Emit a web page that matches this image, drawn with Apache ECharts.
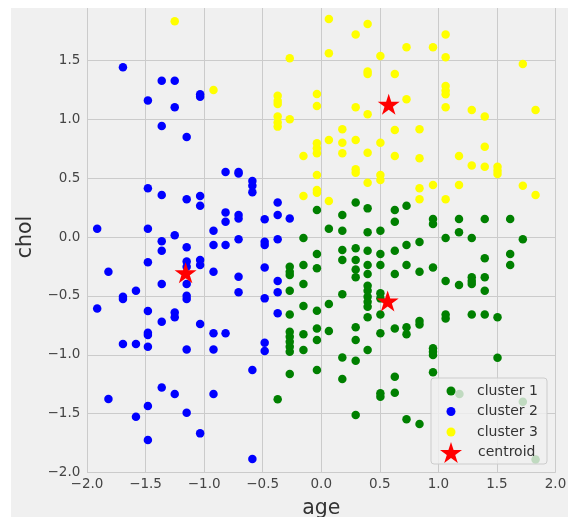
<!DOCTYPE html>
<html><head><meta charset="utf-8">
<script src="https://cdn.jsdelivr.net/npm/echarts@6/dist/echarts.min.js"></script>
<style>html,body{margin:0;padding:0;background:#fff}#c{width:568px;height:517px}</style>
</head><body><div id="c"></div>
<script>
// ---- data ----
const seriesNames = ['cluster 1', 'cluster 2', 'cluster 3', 'centroid'];
const xTicks = [-2.0, -1.5, -1.0, -0.5, 0.0, 0.5, 1.0, 1.5, 2.0];
const yTicks = [-2.0, -1.5, -1.0, -0.5, 0.0, 0.5, 1.0, 1.5];

const cluster1Age = [-0.037,0.180,0.294,0.396,0.628,0.628,0.728,0.065,0.180,0.396,0.505,-0.152,
 0.954,0.954,1.062,1.176,1.176,1.285,1.396,1.613,1.721,0.839,0.728,
 -0.037,0.180,0.180,0.294,0.294,0.396,0.505,0.628,0.294,0.294,0.396,0.396,0.505,0.628,0.728,0.839,0.954,
 1.062,1.176,1.285,1.285,1.285,1.396,1.396,1.396,1.613,1.613,
 -0.269,-0.269,-0.269,-0.152,-0.037,-0.152,-0.269,
 0.396,0.396,0.396,0.396,0.396,0.180,0.505,0.505,0.065,-0.152,-0.037,-0.269,
 0.396,0.505,1.062,1.062,1.285,1.396,1.505,
 -0.037,0.065,0.294,-0.269,-0.269,-0.269,-0.269,-0.269,
 -0.152,-0.037,-0.152,0.294,0.505,0.628,0.728,0.728,0.839,0.839,
 0.396,0.954,0.954,0.954,0.180,0.294,1.505,
 -0.037,-0.269,0.180,0.628,0.954,0.505,0.505,0.628,
 -0.372,0.294,0.728,0.839,1.180,1.721,1.830];
const cluster1Chol = [0.229,0.187,0.292,0.243,0.229,0.130,0.266,0.071,0.054,0.040,0.054,-0.008,
 0.153,0.110,-0.008,0.153,0.040,-0.008,0.153,0.153,-0.020,-0.042,-0.068,
 -0.144,-0.110,-0.195,-0.096,-0.195,-0.116,-0.144,-0.116,-0.275,-0.342,-0.238,-0.314,-0.238,-0.314,-0.238,-0.294,-0.258,
 -0.374,-0.408,-0.342,-0.374,-0.399,-0.342,-0.181,-0.456,-0.144,-0.238,
 -0.252,-0.294,-0.323,-0.238,-0.266,-0.399,-0.456,
 -0.413,-0.456,-0.507,-0.549,-0.592,-0.487,-0.478,-0.521,-0.569,-0.586,-0.626,-0.657,
 -0.682,-0.657,-0.657,-0.691,-0.657,-0.657,-0.682,
 -0.776,-0.798,-0.767,-0.804,-0.847,-0.889,-0.931,-0.974,
 -0.826,-0.875,-0.960,-0.875,-0.818,-0.776,-0.767,-0.826,-0.713,-0.742,
 -0.960,-0.945,-0.974,-1.002,-1.022,-1.050,-1.025,
 -1.129,-1.163,-1.206,-1.186,-1.149,-1.327,-1.356,-1.322,
 -1.378,-1.511,-1.548,-1.588,-1.333,-1.398,-1.888];

const cluster2Age = [-1.693,-1.362,-1.251,-1.480,-1.251,-1.034,-1.034,-1.362,-1.149,
 -0.817,-0.706,-0.706,-0.588,-0.588,-0.588,-1.480,-1.362,-1.149,-1.034,-1.034,-0.372,
 -0.817,-0.817,-0.706,-0.706,-0.483,-0.372,-0.269,-1.913,-1.480,-1.251,-0.920,
 -1.362,-1.362,-1.149,-0.920,-0.817,-0.706,-0.483,-0.483,-0.372,
 -1.480,-1.034,-1.034,-1.149,-1.149,-1.817,-0.920,-0.483,
 -0.706,-0.372,-1.362,-1.149,-1.582,-1.693,-1.693,-1.149,-1.149,-0.706,-0.372,-0.483,
 -1.913,-1.480,-1.251,-1.251,-0.372,-1.362,-1.034,
 -1.480,-1.480,-0.920,-0.817,-1.693,-1.582,-1.480,-1.149,-0.920,-0.483,-0.483,-0.588,
 -1.362,-1.251,-0.920,-1.817,-1.480,-1.149,-1.582,-1.034,-1.480,-0.588];
const cluster2Chol = [1.441,1.327,1.327,1.158,1.101,1.211,1.190,0.943,0.849,
 0.552,0.552,0.540,0.475,0.436,0.379,0.413,0.357,0.320,0.348,0.266,0.292,
 0.209,0.130,0.187,0.158,0.150,0.187,0.158,0.071,0.071,0.014,0.054,
 -0.037,-0.116,-0.088,-0.068,-0.068,-0.020,-0.040,-0.068,-0.020,
 -0.215,-0.195,-0.238,-0.209,-0.252,-0.294,-0.294,-0.258,
 -0.337,-0.374,-0.399,-0.399,-0.456,-0.507,-0.526,-0.498,-0.526,-0.470,-0.470,-0.521,
 -0.606,-0.628,-0.640,-0.682,-0.648,-0.719,-0.739,
 -0.812,-0.832,-0.818,-0.818,-0.909,-0.909,-0.931,-0.954,-0.954,-0.897,-0.968,-1.129,
 -1.277,-1.333,-1.333,-1.376,-1.435,-1.492,-1.526,-1.667,-1.724,-1.885];

const cluster3Age = [-1.251,-0.920,0.065,0.396,0.294,1.062,0.728,0.954,
 -0.269,0.065,0.505,1.062,1.721,0.396,0.396,0.628,
 -0.372,-0.372,-0.372,-0.037,-0.037,1.062,1.062,1.062,
 0.728,0.294,0.396,1.062,1.285,1.396,1.830,
 -0.372,-0.372,-0.372,-0.269,0.180,0.628,0.839,
 0.065,0.180,0.294,0.505,-0.037,-0.037,-0.037,
 -0.152,0.180,0.396,0.628,0.839,1.176,1.396,
 1.285,1.396,1.505,1.505,1.505,0.294,0.294,
 -0.037,0.505,0.505,0.396,0.954,1.176,1.721,
 -0.037,-0.037,0.839,0.839,-0.152,0.065,1.062,1.830];
const cluster3Chol = [1.831,1.248,1.851,1.809,1.718,1.718,1.611,1.611,
 1.517,1.560,1.537,1.526,1.469,1.404,1.384,1.384,
 1.200,1.155,1.129,1.214,1.112,1.282,1.243,1.211,
 1.169,1.101,1.042,1.101,1.078,1.022,1.078,
 1.022,0.971,0.937,0.999,0.914,0.909,0.914,
 0.824,0.801,0.824,0.801,0.795,0.753,0.710,
 0.688,0.710,0.716,0.688,0.668,0.688,0.767,
 0.606,0.597,0.597,0.563,0.535,0.575,0.546,
 0.526,0.526,0.484,0.461,0.442,0.442,0.436,
 0.399,0.376,0.413,0.320,0.348,0.306,0.320,0.357];

const centroidAge = [-1.158, 0.576, 0.567];
const centroidChol = [-0.303, 1.127, -0.543];

// ---- chart ----
const pairs = (a, b) => a.map((v, i) => [v, b[i]]);
const fmt = v => (Math.abs(v) < 1e-9 ? 0 : v).toFixed(1).replace('-', '\u2212');
const starPath = 'path://M50,0L61.2,34.5L97.6,34.5L68.2,55.9L79.4,90.5L50,69.1L20.6,90.5L31.8,55.9L2.4,34.5L38.8,34.5Z';
const FONT = 'DejaVu Sans';

const chart = echarts.init(document.getElementById('c'), null, {renderer: 'canvas'});
chart.setOption({
  animation: false,
  backgroundColor: '#f0f0f0',
  textStyle: {fontFamily: FONT},
  grid: {left: 87, right: 12.5, top: 1.4, bottom: 44.4, containLabel: false, outerBoundsMode: 'none'},
  xAxis: {
    type: 'value', min: xTicks[0], max: xTicks[xTicks.length - 1], interval: 0.5,
    axisLine: {show: false}, axisTick: {show: false},
    splitLine: {show: true, lineStyle: {color: '#cbcbcb', width: 1}},
    axisLabel: {fontFamily: FONT, fontSize: 13.5, color: '#444', margin: 5,
      showMinLabel: true, showMaxLabel: true, formatter: v => fmt(v)},
    name: 'age', nameLocation: 'middle', nameGap: 26,
    nameTextStyle: {fontFamily: FONT, fontSize: 20.5, color: '#333'}
  },
  yAxis: {
    type: 'value', min: yTicks[0], max: 2.0, interval: 0.5,
    axisLine: {show: false}, axisTick: {show: false},
    splitLine: {show: true, lineStyle: {color: '#cbcbcb', width: 1}},
    axisLabel: {fontFamily: FONT, fontSize: 13.5, color: '#444', margin: 6.7,
      showMinLabel: true, formatter: v => (yTicks.some(t => Math.abs(t - v) < 1e-9) ? fmt(v) : '')},
    name: 'chol', nameLocation: 'middle', nameGap: 40, nameRotate: 90,
    nameTextStyle: {fontFamily: FONT, fontSize: 20.5, color: '#333'}
  },
  legend: [
    {data: seriesNames.slice(0, 3), orient: 'vertical', left: 446.5, top: 384, padding: 0,
     itemWidth: 9, itemHeight: 9, itemGap: 6.5, icon: 'circle', selectedMode: false, z: 30,
     textStyle: {fontFamily: FONT, fontSize: 14, color: '#333', padding: [0, 0, 0, 16.5]}},
    {data: [seriesNames[3]], orient: 'vertical', left: 440, top: 442, padding: 0,
     itemWidth: 22, itemHeight: 22, selectedMode: false, z: 30,
     textStyle: {fontFamily: FONT, fontSize: 14, color: '#333', padding: [0, 0, 0, 11]}}
  ],
  graphic: [
    {type: 'rect', z: 20, shape: {x: 431, y: 378, width: 116, height: 86, r: 3},
     style: {fill: 'rgba(240,240,240,0.8)', stroke: '#cccccc', lineWidth: 1}},
    {type: 'rect', z: 40, shape: {x: 0, y: 0, width: 568, height: 8}, style: {fill: '#ffffff'}},
    {type: 'rect', z: 40, shape: {x: 0, y: 0, width: 11, height: 517}, style: {fill: '#ffffff'}}
  ],
  series: [
    {name: seriesNames[0], type: 'scatter', symbol: 'circle', symbolSize: 8.5,
     itemStyle: {color: '#008000', opacity: 1}, data: pairs(cluster1Age, cluster1Chol)},
    {name: seriesNames[1], type: 'scatter', symbol: 'circle', symbolSize: 8.5,
     itemStyle: {color: '#0000ff', opacity: 1}, data: pairs(cluster2Age, cluster2Chol)},
    {name: seriesNames[2], type: 'scatter', symbol: 'circle', symbolSize: 8.5,
     itemStyle: {color: '#ffff00', opacity: 1}, data: pairs(cluster3Age, cluster3Chol)},
    {name: seriesNames[3], type: 'scatter', symbol: starPath, symbolKeepAspect: true, symbolSize: 22,
     itemStyle: {color: '#ff0000', opacity: 1}, data: pairs(centroidAge, centroidChol)}
  ]
});
</script>
</body></html>
